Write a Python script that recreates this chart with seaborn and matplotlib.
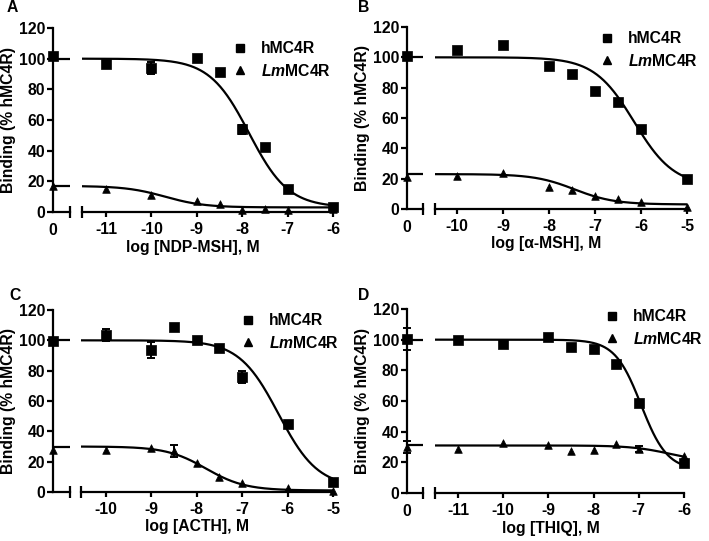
import numpy as np
import pandas as pd
import matplotlib
matplotlib.use("Agg")
from matplotlib import pyplot as plt
from matplotlib.lines import Line2D
import seaborn as sns

# log10 molar concentration; -inf is the no-ligand point drawn as "0" on the broken axis
receptors = ["hMC4R", "LmMC4R"]

# A: NDP-MSH
a_logc = [-np.inf, -11, -10, -9, -8.5, -8, -7.5, -7, -6]
a_h = [101.5, 96.7, 94, 100.4, 91.4, 54, 42.5, 15.3, 3.3]
a_h_err = [0, 1, 4, 0, 0, 3, 0, 0, 0]
a_lm = [16.8, 15.3, 10.9, 7, 5, 1.5, 2.2, 1.5, 2]
a_lm_err = [0, 0, 0, 0, 0, 0, 0, 0, 0]
a_fit_h = (100, 3, -7.85, 1)      # top, bottom, logIC50, hill
a_fit_lm = (17, 3, -9.7, 1)

# B: alpha-MSH
b_logc = [-np.inf, -10, -9, -8, -7.5, -7, -6.5, -6, -5]
b_h = [100.7, 104.8, 107.9, 94.5, 89, 78, 70.5, 52.5, 20]
b_h_err = [0, 0, 0, 1.5, 0, 0, 2, 0, 0]
b_lm = [21, 21.5, 24, 14.5, 12.7, 8.8, 6.6, 4.6, 1.3]
b_lm_err = [0, 0, 0, 0, 0, 0, 0, 0, 0]
b_fit_h = (100, 15, -6.15, 1)
b_fit_lm = (23, 3, -7.45, 1)

# C: ACTH
c_logc = [-np.inf, -10, -9, -8.5, -8, -7.5, -7, -6, -5]
c_h = [99.6, 103.5, 93.7, 108.7, 100.2, 94.8, 76, 44.8, 6.5]
c_h_err = [0, 4, 5.5, 0, 0, 0, 4, 0, 0]
c_lm = [28, 27.5, 29, 27, 19.2, 10, 5.7, 2.4, 0.9]
c_lm_err = [0, 0, 0, 4, 0, 0, 0, 0, 0]
c_fit_h = (100, 3, -6.2, 1)
c_fit_lm = (30, 1, -7.8, 1)

# D: THIQ
d_logc = [-np.inf, -11, -10, -9, -8.5, -8, -7.5, -7, -6]
d_h = [100.5, 100, 97, 102, 95.5, 94, 84, 58.5, 19.6]
d_h_err = [7, 0, 0, 1.5, 2, 0, 0, 0, 0]
d_lm = [30, 29, 32.7, 31, 27.2, 28.3, 31.8, 28.5, 24.2]
d_lm_err = [4, 0, 0, 0, 0, 0, 0, 2, 0]
d_fit_h = (100, 15, -6.95, 1.5)
d_fit_lm = (31, 20, -6.3, 1)

y_ticks = [0, 20, 40, 60, 80, 100, 120]


def binding_curve(x, top, bottom, logic50, hill):
    return bottom + (top - bottom) / (1 + 10 ** ((np.asarray(x, float) - logic50) * hill))


sns.set_theme(style="ticks", rc={
    "axes.edgecolor": "black", "xtick.color": "black", "ytick.color": "black",
    "text.color": "black", "axes.labelcolor": "black", "axes.unicode_minus": False,
})
plt.rcParams["font.family"] = ["Liberation Sans", "DejaVu Sans"]
plt.rcParams["font.weight"] = "bold"
plt.rcParams["mathtext.fontset"] = "custom"
plt.rcParams["mathtext.it"] = "Liberation Sans:italic:bold"
plt.rcParams["mathtext.rm"] = "Liberation Sans:bold"

W, H = 709, 541
fig = plt.figure(figsize=(W / 100, H / 100), dpi=100)


def px_box(x0, x1, y0, y1):
    return [x0 / W, 1 - y1 / H, (x1 - x0) / W, (y1 - y0) / H]


# layout in pixels: y span, left (zero) segment, main segment
panels = [
    dict(letter="A", pos=(12, 8), xlabel="log [NDP-MSH], M",
         logc=a_logc, h=a_h, h_err=a_h_err, lm=a_lm, lm_err=a_lm_err, fits=(a_fit_h, a_fit_lm),
         y=(28, 212), left=(53, 70), main=(82, 333), xlim=(-11.53, -6), zero=True,
         xlab_x=0.44, leg=(240, 50)),
    dict(letter="B", pos=(364, 8), xlabel="log [\u03b1-MSH], M",
         logc=b_logc, h=b_h, h_err=b_h_err, lm=b_lm, lm_err=b_lm_err, fits=(b_fit_h, b_fit_lm),
         y=(27, 209), left=(407, 423), main=(435, 687), xlim=(-10.48, -5), zero=True,
         xlab_x=0.44, leg=(607, 40)),
    dict(letter="C", pos=(15, 295), xlabel="log [ACTH], M",
         logc=c_logc, h=c_h, h_err=c_h_err, lm=c_lm, lm_err=c_lm_err, fits=(c_fit_h, c_fit_lm),
         y=(310, 492), left=(53, 70), main=(81, 333), xlim=(-10.55, -5), zero=False,
         xlab_x=0.46, leg=(248, 322)),
    dict(letter="D", pos=(364, 295), xlabel="log [THIQ], M",
         logc=d_logc, h=d_h, h_err=d_h_err, lm=d_lm, lm_err=d_lm_err, fits=(d_fit_h, d_fit_lm),
         y=(309, 493), left=(407, 423), main=(435, 684), xlim=(-11.51, -6), zero=True,
         xlab_x=0.466, leg=(612, 318)),
]

LW = 1.6
FS = 11.3
markers = {"hMC4R": "s", "LmMC4R": "^"}
msize = {"hMC4R": 42, "LmMC4R": 30}

for p in panels:
    ax0 = fig.add_axes(px_box(p["left"][0], p["left"][1], *p["y"]))
    ax = fig.add_axes(px_box(p["main"][0], p["main"][1], *p["y"]))

    df = pd.DataFrame({
        "logc": list(p["logc"]) * 2,
        "binding": list(p["h"]) + list(p["lm"]),
        "err": list(p["h_err"]) + list(p["lm_err"]),
        "receptor": [receptors[0]] * len(p["logc"]) + [receptors[1]] * len(p["logc"]),
    })
    zero = df[np.isinf(df["logc"])].assign(x=0.0)
    rest = df[~np.isinf(df["logc"])].assign(x=lambda d: d["logc"])

    ax0.set_xlim(0, 1)
    ax.set_xlim(*p["xlim"])
    for a in (ax0, ax):
        a.set_ylim(0, 120)

    # fitted curves
    xs = np.linspace(p["xlim"][0], p["xlim"][1], 300)
    for fit in p["fits"]:
        sns.lineplot(x=xs, y=binding_curve(xs, *fit), ax=ax, color="black", lw=LW, zorder=2)
        plateau = binding_curve(-np.inf, *fit)
        sns.lineplot(x=list(ax0.get_xlim()), y=[plateau, plateau], ax=ax0, color="black",
                     lw=LW, zorder=2)

    for a, d in ((ax0, zero), (ax, rest)):
        e = d[d["err"] > 0]
        a.errorbar(e["x"], e["binding"], yerr=e["err"], fmt="none", ecolor="black",
                   elinewidth=1.4, capsize=3, capthick=1.4, zorder=3, clip_on=False)
        for r in receptors:
            sub = d[d["receptor"] == r]
            sns.scatterplot(data=sub, x="x", y="binding", marker=markers[r], s=msize[r],
                            color="black", edgecolor="black", linewidth=0.5, ax=a,
                            legend=False, zorder=4, clip_on=False)

    # left (zero) segment
    for s in ("top", "right"):
        ax0.spines[s].set_visible(False)
    ax0.spines["left"].set_linewidth(LW)
    ax0.spines["bottom"].set_linewidth(LW)
    ax0.set_yticks(y_ticks)
    ax0.tick_params(axis="y", direction="out", length=4, width=LW, pad=1.5, labelsize=FS)
    if p["zero"]:
        ax0.set_xticks([0])
        ax0.set_xticklabels(["0"])
    else:
        ax0.set_xticks([])
    ax0.set_xticks([1], minor=True)
    ax0.tick_params(axis="x", which="major", length=0, pad=8, labelsize=FS)
    ax0.tick_params(axis="x", which="minor", direction="inout", length=8, width=LW)
    ax0.set_ylabel("Binding (% hMC4R)", fontsize=FS, fontweight="bold", labelpad=2)
    ax0.set_xlabel("")

    # main log segment
    for s in ("top", "right", "left"):
        ax.spines[s].set_visible(False)
    ax.spines["bottom"].set_linewidth(LW)
    lo, hi = p["xlim"]
    ax.set_xticks(np.arange(np.ceil(lo), hi + 0.01, 1))
    ax.set_xticklabels([f"{int(t)}" for t in ax.get_xticks()])
    ax.set_xticks([lo, hi], minor=True)
    ax.set_yticks([])
    ax.tick_params(axis="x", which="major", direction="out", length=3.5, width=LW, pad=4,
                   labelsize=FS)
    ax.tick_params(axis="x", which="minor", direction="inout", length=8, width=LW)
    ax.set_ylabel("")
    ax.set_xlabel(p["xlabel"], fontsize=FS, fontweight="bold", va="top")
    ax.xaxis.set_label_coords(p["xlab_x"], -0.15)

    handles = [
        Line2D([], [], ls="none", marker="s", color="black", markersize=6),
        Line2D([], [], ls="none", marker="^", color="black", markersize=5.5),
    ]
    hl = 1.2 * FS * 100 / 72
    mx, my = p["leg"]
    ax.legend(handles, ["hMC4R", r"$\mathit{Lm}$MC4R"], loc="upper left",
              bbox_to_anchor=((mx - hl / 2) / W, 1 - (my - 9) / H),
              bbox_transform=fig.transFigure, frameon=False, borderpad=0,
              borderaxespad=0, handlelength=1.2, handletextpad=0.75, labelspacing=0.42,
              prop={"size": FS, "weight": "bold"})

    fig.text(p["pos"][0] / W, 1 - p["pos"][1] / H, p["letter"], ha="center", va="center",
             fontsize=FS, fontweight="bold")

fig.savefig("out.png", dpi=100)
